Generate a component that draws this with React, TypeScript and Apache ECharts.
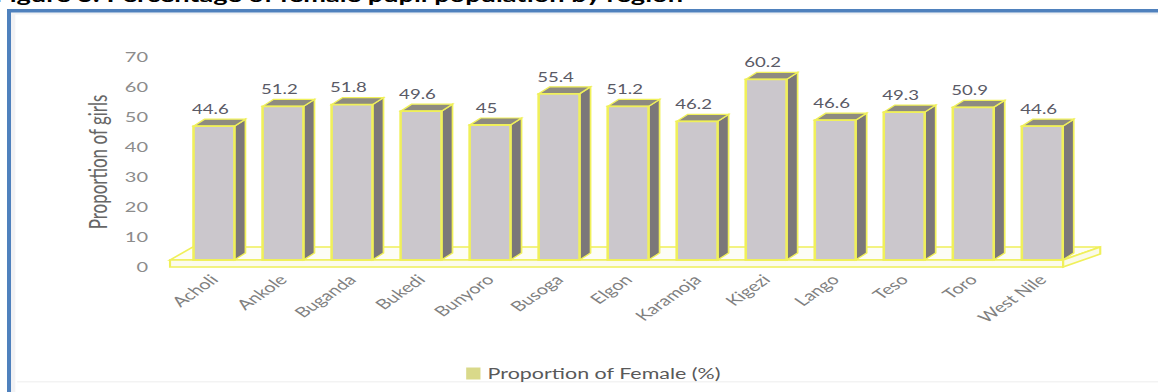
import { useEffect, useRef } from "react";
import * as echarts from "echarts";

// Regions and the share of girls among pupils (%)
const regions = [
  "Acholi", "Ankole", "Buganda", "Bukedi", "Bunyoro", "Busoga", "Elgon",
  "Karamoja", "Kigezi", "Lango", "Teso", "Toro", "West Nile",
];
const femaleShare = [44.6, 51.2, 51.8, 49.6, 45, 55.4, 51.2, 46.2, 60.2, 46.6, 49.3, 50.9, 44.6];

const seriesName = "Proportion of Female (%)";
const yAxisTitle = "Proportion of girls";
const figureTitle = "Figure 3: Percentage of female pupil population by region";
const yMin = 0;
const yMax = 70;
const yStep = 10;

// The chart is laid out on a narrower canvas and widened horizontally,
// which gives the wide lettering and flattened 45° labels of the figure.
const STRETCH = 1.43;
const PAGE_W = 1158;
const PAGE_H = 392;
const CANVAS_W = PAGE_W / STRETCH;

const FONT = "Lato, 'Open Sans', sans-serif";
const OUTLINE = "#F0F05A";

export default function App() {
  const ref = useRef<HTMLDivElement>(null);

  useEffect(() => {
    if (!ref.current) return;
    const chart = echarts.init(ref.current, undefined, { renderer: "svg" });

    const BAR_W = 28.6; // front face width
    const DX = 7.7; // depth offset, horizontal
    const DY = 7; // depth offset, vertical
    const LIFT = 7; // bars stand back from the floor's front edge

    const renderItem = (params: any, api: any) => {
      const idx = api.value(0);
      const v = api.value(1);
      const [cx, yv] = api.coord([idx, v]);
      const [, y0] = api.coord([idx, 0]);
      const children: any[] = [];

      if (params.dataIndex === 0) {
        const cs = params.coordSys;
        const L = cs.x - 6.6;
        const R = cs.x + cs.width - 9.6;
        // floor slab: top surface, right side, front edge
        children.push({
          type: "polygon",
          shape: { points: [[L, y0 - 7], [L + 16, y0 - 20], [R + 26, y0 - 20], [R, y0 - 7]] },
          style: { fill: "#FDFDF6", stroke: OUTLINE, lineWidth: 1.5 },
        });
        children.push({
          type: "polygon",
          shape: { points: [[R, y0 - 7], [R + 26, y0 - 20], [R + 26, y0 - 13], [R, y0]] },
          style: { fill: "#FAFAE8", stroke: OUTLINE, lineWidth: 1.5 },
        });
        children.push({
          type: "polygon",
          shape: { points: [[L, y0 - 7], [R, y0 - 7], [R, y0], [L, y0]] },
          style: { fill: "#FBFBEC", stroke: OUTLINE, lineWidth: 1.5 },
        });
      }

      const fl = cx - BAR_W / 2;
      const fr = cx + BAR_W / 2;
      const ft = yv - LIFT;
      const fb = y0 - LIFT;

      children.push({
        type: "polygon",
        shape: { points: [[fr, ft], [fr + DX, ft - DY], [fr + DX, fb - DY], [fr, fb]] },
        style: { fill: "#7B7779", stroke: OUTLINE, lineWidth: 1.2 },
      });
      children.push({
        type: "polygon",
        shape: { points: [[fl, ft], [fl + DX, ft - DY], [fr + DX, ft - DY], [fr, ft]] },
        style: { fill: "#8E8B80", stroke: OUTLINE, lineWidth: 1.2 },
      });
      children.push({
        type: "rect",
        shape: { x: fl, y: ft, width: BAR_W, height: fb - ft },
        style: { fill: "#CBC7CC", stroke: OUTLINE, lineWidth: 1.8 },
      });
      children.push({
        type: "text",
        x: cx - 2.5,
        y: ft - DY - 4,
        style: {
          text: String(v),
          fill: "#5A5A66",
          font: `13px ${FONT}`,
          align: "center",
          verticalAlign: "bottom",
        },
      });

      return { type: "group", children };
    };

    chart.setOption({
      animation: false,
      backgroundColor: "#FFFFFF",
      grid: { left: 125.5, right: 57, top: 57, bottom: 125, containLabel: false },
      legend: {
        data: [{ name: seriesName, icon: "rect" }],
        left: 321,
        top: 361,
        itemWidth: 10,
        itemHeight: 12,
        itemGap: 6,
        selectedMode: false,
        textStyle: { fontFamily: FONT, fontSize: 15, color: "#595959" },
      },
      xAxis: {
        type: "category",
        data: regions,
        axisLine: { show: false },
        axisTick: { show: false },
        axisLabel: {
          interval: 0,
          rotate: 45,
          margin: 10,
          color: "#808080",
          fontFamily: FONT,
          fontSize: 14,
        },
      },
      yAxis: {
        type: "value",
        min: yMin,
        max: yMax,
        interval: yStep,
        name: yAxisTitle,
        nameLocation: "middle",
        nameGap: 47,
        nameTextStyle: { fontFamily: FONT, fontSize: 17, color: "#666666" },
        axisLine: { show: false },
        axisTick: { show: false },
        splitLine: { show: false },
        axisLabel: { margin: 22, color: "#8C8C8C", fontFamily: FONT, fontSize: 14 },
      },
      graphic: [
        // page frame: blue rule on the top and left, faint inner shade
        { type: "rect", shape: { x: 7.7, y: 12.5, width: CANVAS_W, height: 2 }, style: { fill: "#EEF0F3" } },
        { type: "rect", shape: { x: 7.7, y: 12.5, width: 3, height: PAGE_H }, style: { fill: "#F2F2F4" } },
        { type: "rect", shape: { x: 12, y: 381, width: CANVAS_W, height: 1.5 }, style: { fill: "#F3F3F3" } },
        { type: "rect", shape: { x: 4.9, y: 9, width: CANVAS_W, height: 3.5 }, style: { fill: "#4F81BD" } },
        { type: "rect", shape: { x: 4.9, y: 9, width: 2.8, height: PAGE_H }, style: { fill: "#4F81BD" } },
        {
          // heading of the figure, running off the top of the page
          type: "text",
          x: -4,
          y: 4,
          style: {
            text: figureTitle,
            fill: "#000000",
            font: `bold 19px ${FONT}`,
            align: "left",
            verticalAlign: "bottom",
          },
        },
      ],
      series: [
        {
          type: "custom",
          name: seriesName,
          coordinateSystem: "cartesian2d",
          itemStyle: { color: "#D9D98A" },
          encode: { x: 0, y: 1 },
          data: femaleShare.map((v, i) => [i, v]),
          renderItem,
        },
      ],
    });

    return () => chart.dispose();
  }, []);

  return (
    <div
      style={{
        position: "fixed",
        left: 0,
        top: 0,
        width: PAGE_W,
        height: PAGE_H,
        overflow: "hidden",
        background: "#FFFFFF",
      }}
    >
      <div
        ref={ref}
        style={{
          width: CANVAS_W,
          height: PAGE_H,
          transform: `scaleX(${STRETCH})`,
          transformOrigin: "0 0",
        }}
      />
    </div>
  );
}
